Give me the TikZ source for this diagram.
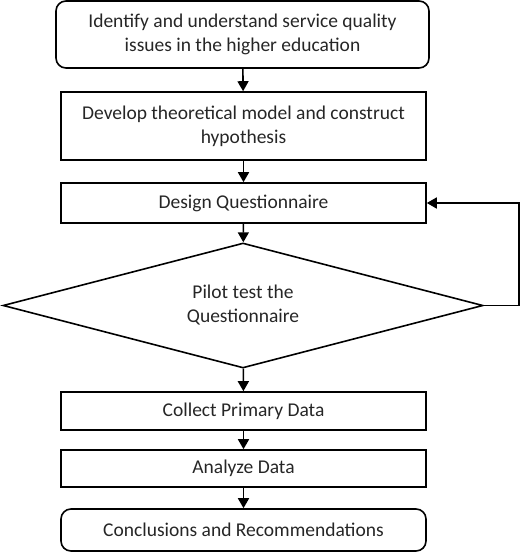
\documentclass[tikz,border=0pt]{standalone}
\usepackage{fontspec}
\setmainfont{Carlito}
\usetikzlibrary{shapes.geometric,arrows.meta}
\begin{document}
\begin{tikzpicture}[x=1pt,y=-1pt,
  every node/.style={font=\fontsize{19.5}{24}\selectfont, text=black!85, align=center, inner sep=0pt},
  box/.style={draw, line width=1.6pt, minimum width=365pt},
  rbox/.style={box, rounded corners=10pt},
  dia/.style={draw, diamond, line width=1.6pt, minimum width=480pt, minimum height=125pt, shape aspect=3.84},
  arr/.style={line width=1.6pt, -{Triangle[length=10pt,width=11pt]}}]
\useasboundingbox (0,0) rectangle (520,552);
\node[rbox, minimum width=373pt, minimum height=67pt] (n1) at (242.5,34.5) {Identify and understand service quality\\issues in the higher education};
\node[box, minimum height=68pt] (n2) at (243.5,126) {Develop theoretical model and construct\\hypothesis};
\node[box, minimum height=40pt] (n3) at (243.5,203) {Design Questionnaire};
\node[dia] (n4) at (243,305.5) {Pilot test the\\Questionnaire};
\node[box, minimum height=38pt] (n5) at (243.5,411) {Collect Primary Data};
\node[box, minimum height=37pt] (n6) at (243.5,468.5) {Analyze Data};
\node[rbox, minimum height=42pt] (n7) at (243.5,530) {Conclusions and Recommendations};
\coordinate (c1) at (519,305.5);
\coordinate (c2) at (519,203);
\draw[arr] (n1) -- (n2);
\draw[arr] (n2) -- (n3);
\draw[arr] (n3) -- (n4);
\draw[arr] (n4) -- (n5);
\draw[arr] (n5) -- (n6);
\draw[arr] (n6) -- (n7);
\draw[arr] (n4.east) -- (c1) -- (c2) -- (n3.east);
\end{tikzpicture}
\end{document}
